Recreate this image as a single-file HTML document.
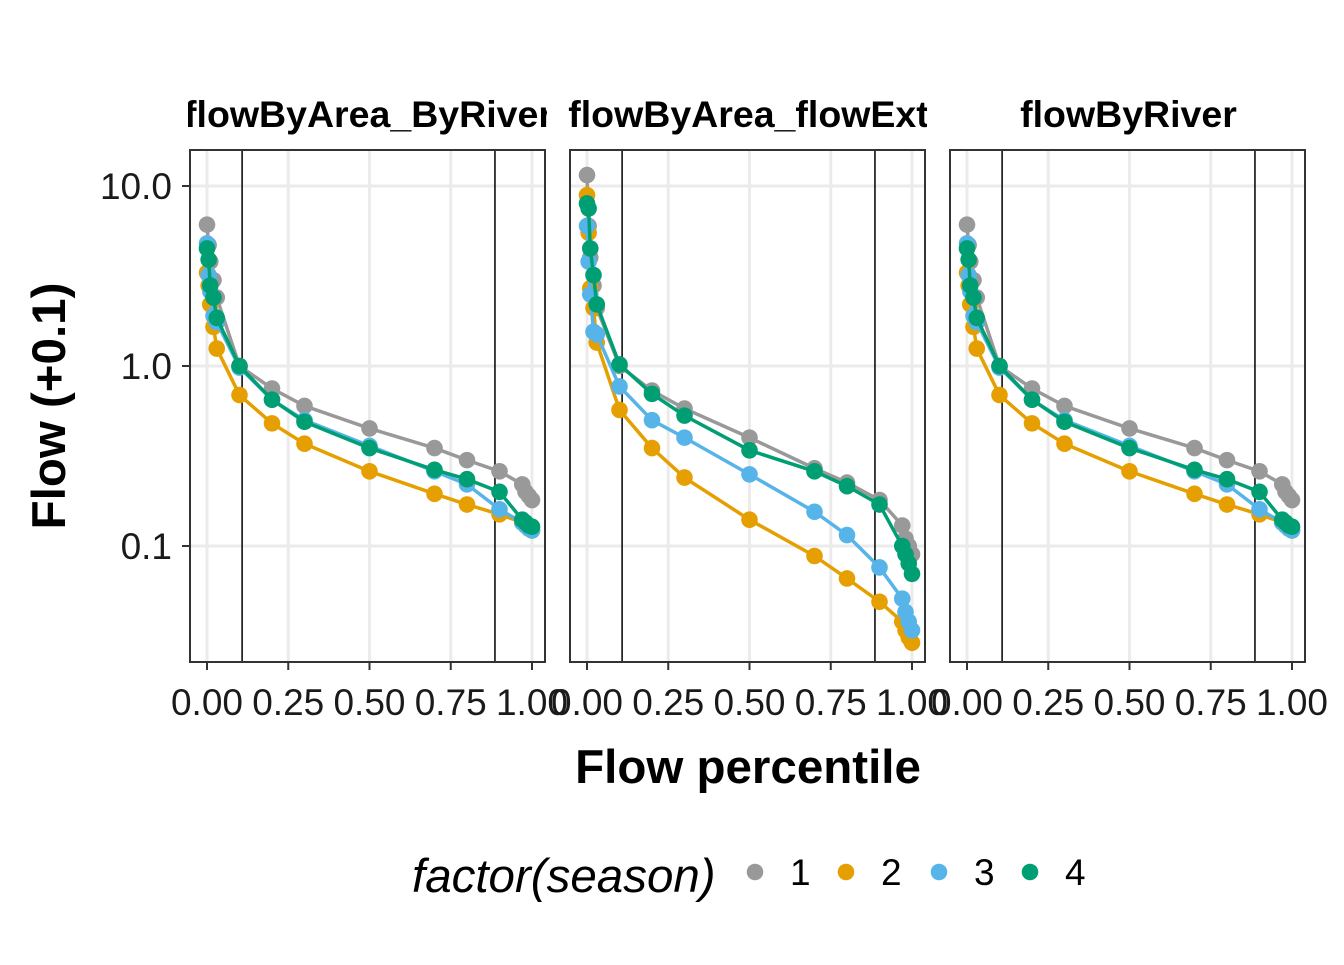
<!DOCTYPE html>
<html><head><meta charset="utf-8"><style>
body{margin:0;background:#fff}
svg text{font-family:"Liberation Sans",Arial,sans-serif}
</style></head><body>
<svg id="chart" width="1344" height="960"></svg>
<script>
const xs = [0, 0.005, 0.01, 0.02, 0.03, 0.1, 0.2, 0.3, 0.5, 0.7, 0.8, 0.9, 0.97, 0.98, 0.99, 1.0];
const seasons = ["1","2","3","4"];
const colors = ["#999999","#E69F00","#56B4E9","#009E73"];
const panelTitles = ["flowByArea_ByRiver","flowByArea_flowExt","flowByRiver"];
const riverS1 = [6.1,4.7,3.8,3.0,2.4,1.0,0.75,0.6,0.45,0.35,0.3,0.26,0.22,0.2,0.19,0.18];
const riverS2 = [3.3,2.8,2.2,1.65,1.25,0.69,0.48,0.37,0.26,0.195,0.17,0.15,0.135,0.13,0.125,0.122];
const riverS3 = [4.8,3.2,2.6,1.9,1.75,0.98,0.65,0.5,0.36,0.26,0.22,0.16,0.135,0.13,0.125,0.122];
const riverS4 = [4.5,3.9,2.8,2.4,1.85,1.0,0.65,0.49,0.35,0.265,0.235,0.2,0.14,0.135,0.13,0.128];
const extS1 = [11.5,6,4,2.8,2.1,1.0,0.73,0.58,0.4,0.27,0.225,0.18,0.13,0.11,0.1,0.09];
const extS2 = [8.9,5.5,2.7,2.1,1.35,0.57,0.35,0.24,0.14,0.088,0.066,0.049,0.038,0.034,0.031,0.029];
const extS3 = [6.0,3.8,2.5,1.55,1.5,0.77,0.5,0.4,0.25,0.155,0.115,0.076,0.051,0.043,0.038,0.034];
const extS4 = [8.0,7.5,4.5,3.2,2.2,1.02,0.7,0.53,0.34,0.26,0.215,0.17,0.1,0.09,0.08,0.07];
const xTicks = [0,0.25,0.5,0.75,1];
const xTickLabels = ["0.00","0.25","0.50","0.75","1.00"];
const yTicks = [10,1,0.1];
const yTickLabels = ["10.0","1.0","0.1"];
const vLines = [0.108,0.886];

const panelData = [[riverS1,riverS2,riverS3,riverS4],[extS1,extS2,extS3,extS4],[riverS1,riverS2,riverS3,riverS4]];
const panelLeft = [190,570,950];
const PW=355, PT=150, PB=662;
const NS="http://www.w3.org/2000/svg";
const svg=document.getElementById("chart");
function mk(tag,attrs,parent){const e=document.createElementNS(NS,tag);for(const k in attrs)e.setAttribute(k,attrs[k]);(parent||svg).appendChild(e);return e;}
function yScale(v){return 366-180*Math.log10(v);}

panelData.forEach((series,pi)=>{
  const L=panelLeft[pi];
  const xS=v=>L+17+325*v;
  const g=mk("g",{});
  
  
  const cp=mk("clipPath",{id:"cp"+pi},g);
  mk("rect",{x:L,y:PT,width:PW,height:PB-PT},cp);
  const cpt=mk("clipPath",{id:"ct"+pi},g);
  mk("rect",{x:L-2,y:90,width:PW+4,height:50},cpt);
  xTicks.forEach(v=>mk("line",{x1:xS(v),x2:xS(v),y1:PT,y2:PB,stroke:"#ebebeb","stroke-width":3},g));
  yTicks.forEach(v=>mk("line",{x1:L,x2:L+PW,y1:yScale(v),y2:yScale(v),stroke:"#ebebeb","stroke-width":3},g));
  vLines.forEach(v=>mk("line",{x1:xS(v),x2:xS(v),y1:PT,y2:PB,stroke:"#000","stroke-width":1.5},g));
  const dg=mk("g",{"clip-path":"url(#cp"+pi+")"},g);
  series.forEach((vals,si)=>{
    const pts=vals.map((v,i)=>xS(xs[i])+","+yScale(v)).join(" ");
    const pl=mk("polyline",{points:pts,fill:"none",stroke:colors[si],"stroke-width":3.5},dg);
    
    
    vals.forEach((v,i)=>{
      const c=mk("circle",{cx:xS(xs[i]),cy:yScale(v),r:8.3,fill:colors[si]},dg);
      
      
    });
  });
  mk("rect",{x:L,y:PT,width:PW,height:PB-PT,fill:"none",stroke:"#333","stroke-width":2},g);
  const t=mk("text",{x:L+PW/2+1,y:127,"text-anchor":"middle","font-size":37.5,"font-weight":"bold","clip-path":"url(#ct"+pi+")"},g);
  t.textContent=panelTitles[pi];
  
  
  xTicks.forEach((v,i)=>{
    mk("line",{x1:xS(v),x2:xS(v),y1:PB,y2:PB+8,stroke:"#333","stroke-width":2},g);
    const tl=mk("text",{x:xS(v),y:715,"text-anchor":"middle","font-size":37,fill:"#1a1a1a"},g);
    tl.textContent=xTickLabels[i];
    
    
  });
  if(pi===0){
    yTicks.forEach((v,i)=>{
      mk("line",{x1:L-8,x2:L,y1:yScale(v),y2:yScale(v),stroke:"#333","stroke-width":2},g);
      const tl=mk("text",{x:L-18,y:yScale(v)+13,"text-anchor":"end","font-size":37,fill:"#1a1a1a"},g);
      tl.textContent=yTickLabels[i];
      
      
    });
  }
});
const xt=mk("text",{x:748,y:783,"text-anchor":"middle","font-size":47.5,"font-weight":"bold"});
xt.textContent="Flow percentile";


const yt=mk("text",{x:0,y:0,"text-anchor":"middle","font-size":47.5,"font-weight":"bold",transform:"translate(65,406) rotate(-90)"});
yt.textContent="Flow (+0.1)";


const lt=mk("text",{x:412,y:892,"font-size":47.5,"font-style":"italic"});
lt.textContent="factor(season)";


const legX=[755,846,939,1030];
seasons.forEach((s,i)=>{
  const g=mk("g",{});
  
  
  mk("circle",{cx:legX[i],cy:872,r:8.3,fill:colors[i]},g);
  const tx=mk("text",{x:legX[i]+35,y:885,"font-size":37,"text-anchor":"start"},g);
  tx.textContent=s;
});
</script>
</body></html>
